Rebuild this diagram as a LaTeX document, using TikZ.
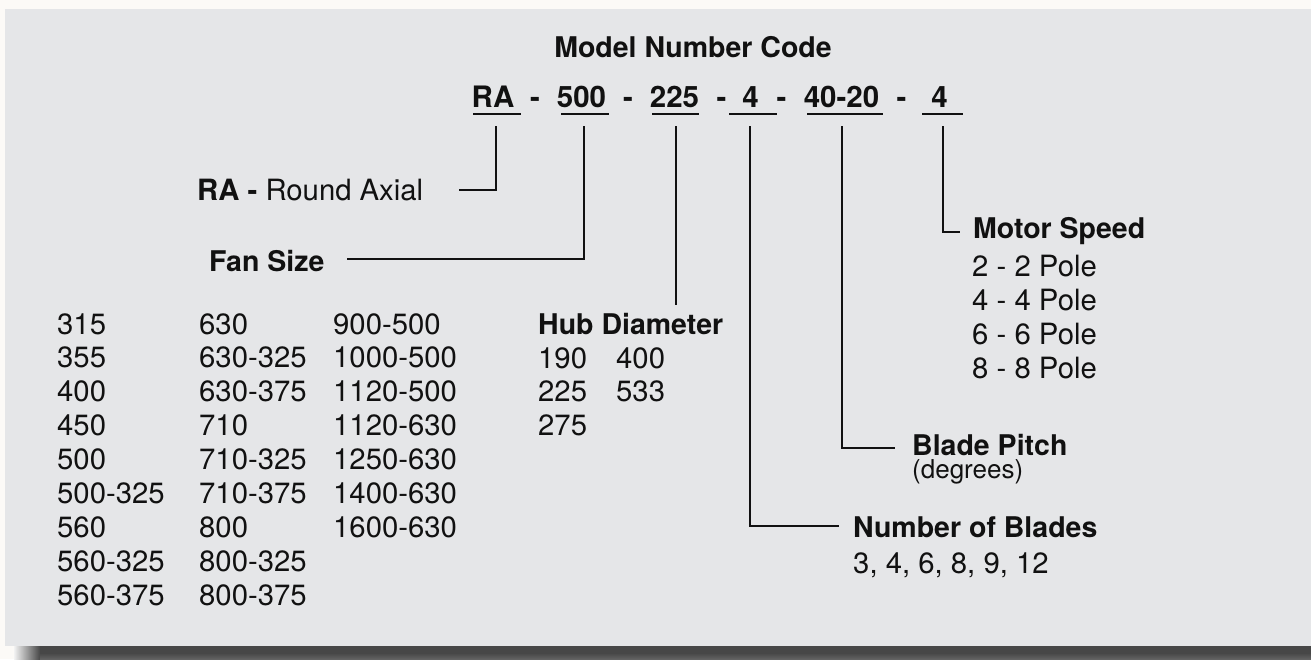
\documentclass[tikz,border=0pt]{standalone}
\usepackage{fontspec}
\setmainfont{TeX Gyre Heros}
\definecolor{panel}{HTML}{E5E6E8}
\definecolor{shadowc}{HTML}{474747}
\definecolor{ink}{HTML}{111111}
\begin{document}
\begin{tikzpicture}[x=1pt,y=-1pt,
  txt/.style={anchor=base west, inner sep=0pt, text=ink, font=\fontsize{29.3}{34}\selectfont},
  hd/.style={anchor=base west, inner sep=0pt, text=ink, font=\bfseries\fontsize{28.5}{34}\selectfont},
  code/.style={anchor=base, inner sep=0pt, text=ink, font=\fontsize{29.5}{34}\selectfont},
  small/.style={anchor=base west, inner sep=0pt, text=ink, font=\fontsize{26}{28}\selectfont},
  uline/.style={line width=2.3pt, ink},
  conn/.style={line width=2pt, ink}]
\useasboundingbox (0,0) rectangle (1311,659);
% background, panel and shadow
\fill[white!96!brown] (0,0) rectangle (1311,659);
\fill[panel] (5,9) rectangle (1311,646);
\shade[left color=white!90!gray, right color=shadowc] (14,646) rectangle (40,659);
\fill[shadowc] (40,646) rectangle (1311,659);
\shade[top color=shadowc, bottom color=shadowc!85!white] (40,653) rectangle (1311,659);

% title
\node[hd, anchor=base] (title) at (693,57) {Model Number Code};

% code tokens
\node[code] (cRA)  at (493,107) {\bfseries RA};
\node[code] (d1)   at (535,107) {\bfseries -};
\node[code] (c500) at (581.5,107) {\bfseries 500};
\node[code] (d2)   at (628,107) {\bfseries -};
\node[code] (c225) at (674.5,107) {\bfseries 225};
\node[code] (d3)   at (721.5,107) {\bfseries -};
\node[code] (cB)   at (750.5,107) {\bfseries 4};
\node[code] (d4)   at (781.5,107) {\bfseries -};
\node[code] (cP)   at (841.5,107) {\bfseries 40-20};
\node[code] (d5)   at (901.5,107) {\bfseries -};
\node[code] (cM)   at (939.5,107) {\bfseries 4};

% underlines
\draw[uline] (473,114) -- (521,114);
\draw[uline] (561,114) -- (609,114);
\draw[uline] (652,114) -- (699,114);
\draw[uline] (729,114) -- (777,114);
\draw[uline] (807,114) -- (883,114);
\draw[uline] (922,114) -- (963,114);

% connector anchor coordinates
\coordinate (tRA) at (496,126);
\coordinate (t500) at (584,126);
\coordinate (t225) at (676,126);
\coordinate (tB) at (750,126);
\coordinate (tP) at (842,126);
\coordinate (tM) at (943,126);
\coordinate (eRA) at (459,190);
\coordinate (e500) at (347,259);
\coordinate (e225) at (676,305);
\coordinate (eB) at (839,526);
\coordinate (eP) at (895,448);
\coordinate (eM) at (960,232);

% labels
\node[txt] (lRA) at (197,200) {\textbf{RA -} Round Axial};
\node[hd] (lFan) at (209,271) {Fan Size};
\node[hd] (lHub) at (538,334) {Hub Diameter};
\node[hd] (lBl) at (853,537) {Number of Blades};
\node[txt] (vBl) at (853,573) {3, 4, 6, 8, 9, 12};
\node[hd] (lPi) at (912,455) {Blade Pitch};
\node[small] (vPi) at (912,478) {(degrees)};
\node[hd] (lMo) at (973,238) {Motor Speed};

% connectors
\draw[conn] (tRA) |- (eRA);
\draw[conn] (t500) |- (e500);
\draw[conn] (t225) -- (e225);
\draw[conn] (tB) |- (eB);
\draw[conn] (tP) |- (eP);
\draw[conn] (tM) |- (eM);

% motor speed values
\foreach \t [count=\i] in {2 - 2 Pole, 4 - 4 Pole, 6 - 6 Pole, 8 - 8 Pole}
  \node[txt] (ms\i) at (972,{276+34.3*(\i-1)}) {\t};

% fan sizes
\foreach \t [count=\i] in {315,355,400,450,500,500-325,560,560-325,560-375}
  \node[txt] (fa\i) at (57,{334+33.9*(\i-1)}) {\t};
\foreach \t [count=\i] in {630,630-325,630-375,710,710-325,710-375,800,800-325,800-375}
  \node[txt] (fb\i) at (199,{334+33.9*(\i-1)}) {\t};
\foreach \t [count=\i] in {900-500,1000-500,1120-500,1120-630,1250-630,1400-630,1600-630}
  \node[txt] (fc\i) at (333,{334+33.9*(\i-1)}) {\t};

% hub diameters
\foreach \t [count=\i] in {190,225,275}
  \node[txt] (ha\i) at (538,{368+33.9*(\i-1)}) {\t};
\foreach \t [count=\i] in {400,533}
  \node[txt] (hb\i) at (616,{368+33.9*(\i-1)}) {\t};
\end{tikzpicture}
\end{document}
